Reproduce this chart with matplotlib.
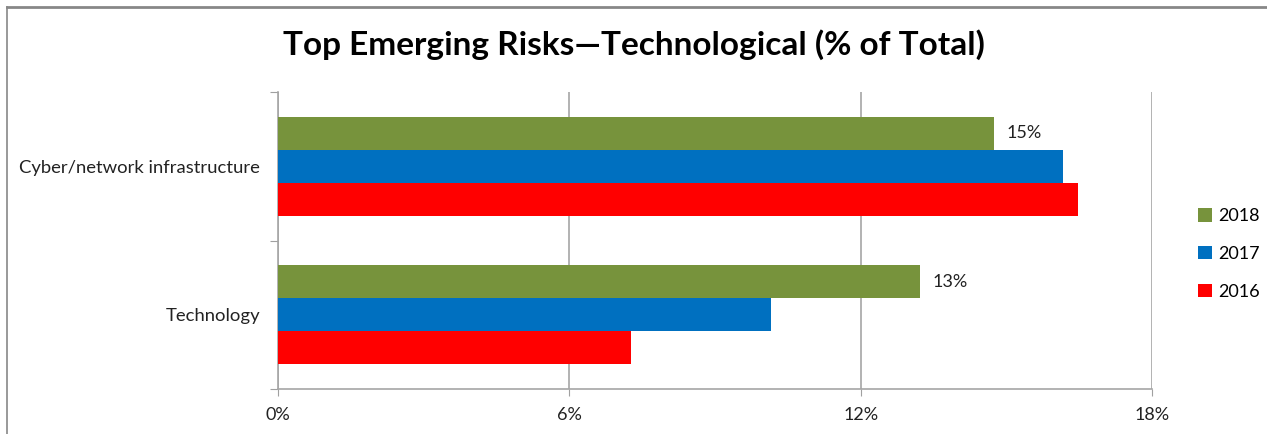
import matplotlib
matplotlib.use("Agg")
import matplotlib.pyplot as plt
from matplotlib.lines import Line2D
import numpy as np

plt.rcParams["font.family"] = ["Lato", "DejaVu Sans"]

categories = ["Technology", "Cyber/network infrastructure"]
years = ["2018", "2017", "2016"]
values_2018 = [13.22, 14.75]
values_2017 = [10.16, 16.17]
values_2016 = [7.28, 16.48]
labels_2018 = ["13%", "15%"]
x_ticks = [0, 6, 12, 18]
x_tick_labels = ["0%", "6%", "12%", "18%"]

colors = {"2018": "#77933C", "2017": "#0070C0", "2016": "#FF0000"}
series = {"2018": values_2018, "2017": values_2017, "2016": values_2016}

fig = plt.figure(figsize=(12.67, 4.34), dpi=100)
ax = fig.add_axes([278 / 1267, 1 - 389 / 434, (1152 - 278) / 1267, (389 - 92) / 434])

h = 0.222
offsets = {"2018": h, "2017": 0.0, "2016": -h}
y = np.arange(len(categories))
for yr in years:
    ax.barh(y + offsets[yr], series[yr], height=h, color=colors[yr], label=yr, zorder=3)

for yi, v, lab in zip(y, values_2018, labels_2018):
    ax.text(v + 0.25, yi + h, lab, va="center", ha="left", fontsize=13, color="#222222")

ax.set_xlim(0, 18)
ax.set_ylim(-0.5, 1.5)
ax.set_xticks(x_ticks)
ax.set_xticklabels(x_tick_labels, fontsize=13, color="#222222")
ax.set_yticks([-0.5, 0.5, 1.5])
ax.set_yticklabels([])
ax.set_yticks(y, minor=True)
ax.set_yticklabels(categories, minor=True, fontsize=13.3, color="#222222")
ax.tick_params(axis="y", which="minor", length=0, pad=13)
ax.tick_params(axis="y", which="major", length=6, color="#A0A0A0")
ax.tick_params(axis="x", length=5, color="#A0A0A0", pad=8)
ax.grid(axis="x", color="#A6A6A6", linewidth=1.2, zorder=0)
for side in ["top", "right"]:
    ax.spines[side].set_visible(False)
for side in ["left", "bottom"]:
    ax.spines[side].set_color("#A6A6A6")
    ax.spines[side].set_linewidth(1.2)

fig.text(0.5, 1 - 45 / 434, "Top Emerging Risks\u2014Technological (% of Total)",
         ha="center", va="center", fontsize=24, fontweight="bold")

leg = fig.legend(loc="center left", bbox_to_anchor=(1182 / 1267, 1 - 254 / 434),
                 frameon=False, fontsize=13, handlelength=0.75, handleheight=0.75,
                 handletextpad=0.35, labelspacing=1.2)

# outer chart frame
fig.add_artist(Line2D([7 / 1267, 1], [1 - 7 / 434, 1 - 7 / 434], color="#878787", lw=2))
fig.add_artist(Line2D([7 / 1267, 7 / 1267], [0, 1 - 7 / 434], color="#878787", lw=1.2))

fig.savefig("out.png", dpi=100)
